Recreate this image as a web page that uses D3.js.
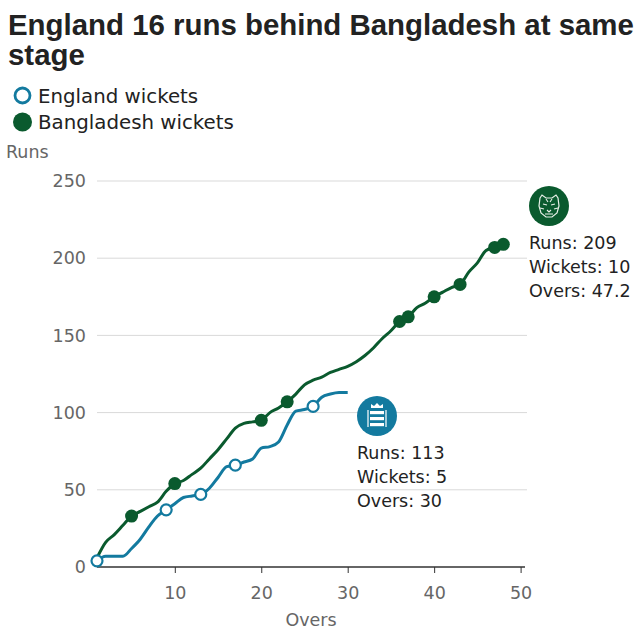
<!DOCTYPE html>
<html>
<head>
<meta charset="utf-8">
<script src="https://cdn.jsdelivr.net/npm/d3@7"></script>
<style>
  html, body { margin: 0; padding: 0; background: #fff; }
  svg { display: block; font-family: "DejaVu Sans", "Noto Sans", sans-serif; }
</style>
</head>
<body>
<svg id="chart" width="640" height="640"></svg>
<script>
// ---- data ----
const titleLines = ["England 16 runs behind Bangladesh at same", "stage"];
const englandRuns = [4, 7, 7, 7, 12, 18, 26, 33, 37, 41, 45, 46, 47, 51, 58, 65, 66, 68, 70, 77, 78, 81, 92, 101, 102, 104, 110, 112, 113, 113];
const bangladeshRuns = [6, 16, 21, 27, 33, 36, 39, 42, 49, 54, 56, 60, 64, 70, 76, 83, 90, 93, 94, 95, 100, 103, 107, 112, 118, 121, 123, 126, 128, 130, 133, 137, 142, 148, 153, 159, 162, 168, 171, 175, 178, 181, 183, 191, 197, 205, 207, 209];
const englandWicketOvers = [1, 9, 13, 17, 26];
const bangladeshWicketOvers = [5, 10, 20, 23, 36, 37, 40, 43, 47, 48];
const yTicks = [0, 50, 100, 150, 200, 250];
const xTicks = [10, 20, 30, 40, 50];
const englandSummary = ["Runs: 113", "Wickets: 5", "Overs: 30"];
const bangladeshSummary = ["Runs: 209", "Wickets: 10", "Overs: 47.2"];
const legendItems = ["England wickets", "Bangladesh wickets"];

const engColor = "#137a9f";
const banColor = "#0a5a2e";
const axisFont = 17.5;
const bodyFont = "DejaVu Sans, Noto Sans, sans-serif";

const svg = d3.select("#chart");

// ---- title ----
const titleFont = "Liberation Sans, Arial, sans-serif";
const t1 = svg.append("text").attr("x", 8).attr("y", 35).attr("font-weight", "bold")
  .attr("font-family", titleFont).attr("fill", "#222").attr("font-size", 25).text(titleLines[0]);
const fs = 25 * 626 / t1.node().getComputedTextLength();
t1.attr("font-size", fs);
svg.append("text").attr("x", 8).attr("y", 65).attr("font-weight", "bold")
  .attr("font-family", titleFont).attr("fill", "#222").attr("font-size", fs).text(titleLines[1]);

// ---- legend ----
const lg = svg.append("g");
lg.append("circle").attr("cx", 22.5).attr("cy", 95.5).attr("r", 7.5)
  .attr("fill", "#fff").attr("stroke", engColor).attr("stroke-width", 2.8);
lg.append("circle").attr("cx", 22.5).attr("cy", 122).attr("r", 9.5).attr("fill", banColor);
lg.selectAll("text.leg").data(legendItems).join("text").attr("class", "leg")
  .attr("x", 38).attr("y", (d, i) => 103 + i * 26)
  .attr("font-size", 19.8).attr("fill", "#222").text(d => d);

// ---- scales ----
const x = d3.scaleLinear().domain([1, 50]).range([97, 520.6]);
const y = d3.scaleLinear().domain([0, 250]).range([567, 181]);

// y label
svg.append("text").attr("x", 6).attr("y", 158).attr("font-size", axisFont)
  .attr("fill", "#666").text("Runs");

// gridlines
svg.append("g").selectAll("line").data(yTicks.filter(d => d > 0)).join("line")
  .attr("x1", 97).attr("x2", 527).attr("y1", d => y(d)).attr("y2", d => y(d))
  .attr("stroke", "#d9d9d9").attr("stroke-width", 1);

// y axis labels
const yAxis = d3.axisLeft(y).tickValues(yTicks).tickSize(0).tickPadding(11);
const yg = svg.append("g").attr("transform", "translate(97,0)").call(yAxis);
yg.select(".domain").remove();
yg.selectAll("text").attr("font-size", axisFont).attr("fill", "#666")
  .attr("font-family", bodyFont);

// x axis
const xAxis = d3.axisBottom(x).tickValues(xTicks).tickSize(6).tickSizeOuter(0).tickPadding(14);
const xg = svg.append("g").attr("transform", "translate(0,567)").call(xAxis);
xg.select(".domain").attr("d", "M97,0H525").attr("stroke", "#333").attr("stroke-width", 1.5);
xg.selectAll(".tick line").attr("stroke", "#333").attr("stroke-width", 1);
xg.selectAll("text").attr("font-size", axisFont).attr("fill", "#666")
  .attr("font-family", bodyFont);
svg.append("text").attr("x", 311).attr("y", 626).attr("text-anchor", "middle")
  .attr("font-size", axisFont).attr("fill", "#666").text("Overs");

// ---- lines ----
const line = d3.line().x((d, i) => x(i + 1)).y(d => y(d)).curve(d3.curveMonotoneX);
svg.append("path").datum(bangladeshRuns).attr("d", line).attr("fill", "none")
  .attr("stroke", banColor).attr("stroke-width", 3).attr("stroke-linejoin", "round");
svg.append("path").datum(englandRuns).attr("d", line).attr("fill", "none")
  .attr("stroke", engColor).attr("stroke-width", 3).attr("stroke-linejoin", "round");

// wickets
svg.append("g").selectAll("circle").data(bangladeshWicketOvers).join("circle")
  .attr("cx", d => x(d)).attr("cy", d => y(bangladeshRuns[d - 1])).attr("r", 6.5)
  .attr("fill", banColor);
svg.append("g").selectAll("circle").data(englandWicketOvers).join("circle")
  .attr("cx", d => x(d)).attr("cy", d => y(englandRuns[d - 1])).attr("r", 5.5)
  .attr("fill", "#fff").attr("stroke", engColor).attr("stroke-width", 2.2);

// ---- annotations ----
function summary(lines, x0, y0) {
  svg.append("g").selectAll("text").data(lines).join("text")
    .attr("x", x0).attr("y", (d, i) => y0 + i * 24)
    .attr("font-size", 17.5).attr("fill", "#222").text(d => d);
}
summary(bangladeshSummary, 529, 249);
summary(englandSummary, 357, 459);

// Bangladesh icon (tiger face)
const bi = svg.append("g").attr("transform", "translate(549,206)");
bi.append("circle").attr("r", 20).attr("fill", banColor);
bi.append("path").attr("d",
  "M-9,-8 L-7,-11 L-3,-8 L3,-8 L7,-11 L9,-8 L10,0 L8,7 L3,11 L-3,11 L-8,7 L-10,0 Z")
  .attr("fill", "none").attr("stroke", "#e8f0e8").attr("stroke-width", 1.2);
bi.append("path").attr("d",
  "M-6,-2 L-2,-1 M2,-1 L6,-2 M-2,4 L0,6 L2,4 M-4,8 L4,8 M-9,2 L-5,3 M9,2 L5,3 M-3,-7 L-1,-4 M3,-7 L1,-4")
  .attr("fill", "none").attr("stroke", "#e8f0e8").attr("stroke-width", 1.1);

// England icon (crest)
const ei = svg.append("g").attr("transform", "translate(377,416)");
ei.append("circle").attr("r", 20).attr("fill", engColor);
ei.append("path").attr("d", "M-6,-8 L-6,-12 L-3,-10 L0,-13 L3,-10 L6,-12 L6,-8 Z")
  .attr("fill", "#fff");
ei.selectAll("rect.lion").data([0, 1, 2]).join("rect").attr("class", "lion")
  .attr("x", -7).attr("y", d => -5 + d * 6).attr("width", 14).attr("height", 3.2)
  .attr("fill", "#fff");
ei.append("path").attr("d", "M-9,-6 L-9,11 M9,-6 L9,11")
  .attr("stroke", "#fff").attr("stroke-width", 1.2);
</script>
</body>
</html>
